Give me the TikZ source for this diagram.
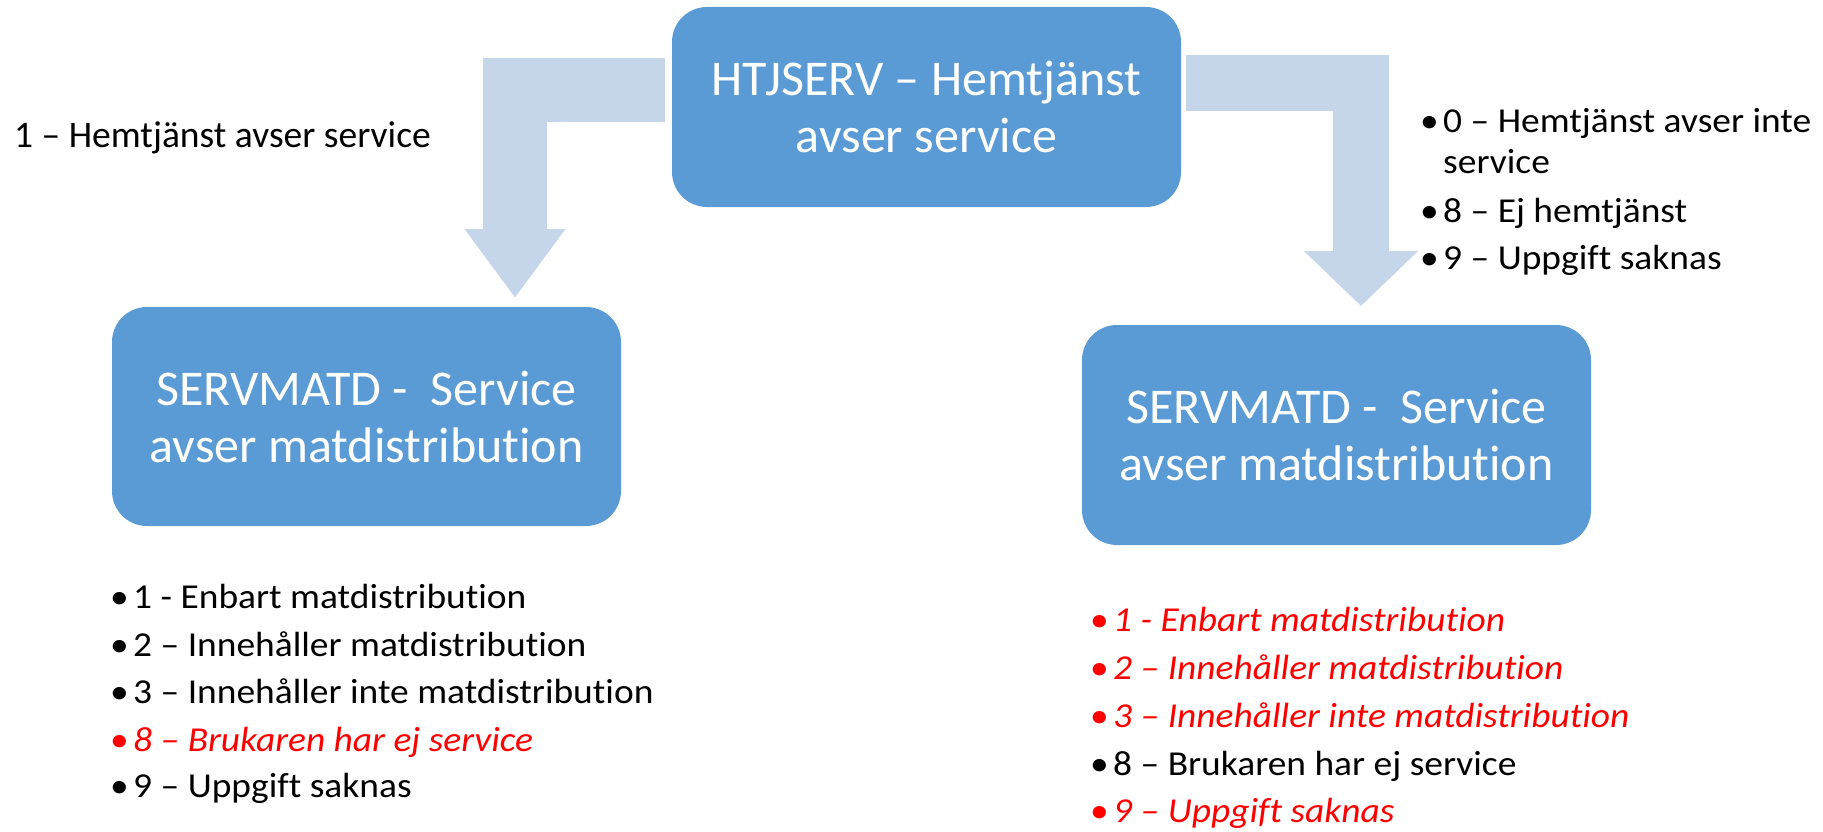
\documentclass[tikz,border=0pt]{standalone}
\usepackage{fontspec}
\setmainfont{Carlito}[Ligatures={NoCommon}]
\newfontfamily\listfont{Carlito}[Ligatures={NoCommon},FakeStretch=1.07]
\usetikzlibrary{arrows.meta}
\definecolor{boxblue}{HTML}{5B9BD5}
\definecolor{arrowblue}{HTML}{C5D5EA}
\definecolor{redtxt}{HTML}{FF0000}
\tikzset{
  box/.style={rectangle, rounded corners=35pt, fill=boxblue, text=white, inner sep=0pt, align=center,
    font=\fontsize{50}{57}\selectfont},
  bigarrow/.style={draw=arrowblue, line cap=butt, line join=miter},
  item/.style={anchor=base west, inner sep=0pt, font=\listfont\fontsize{35}{40}\selectfont},
  reditem/.style={item, text=redtxt, font=\listfont\fontsize{35}{40}\selectfont\itshape},
  bul/.style={anchor=base west, inner sep=0pt, font=\listfont\fontsize{35}{40}\selectfont},
  redbul/.style={bul, text=redtxt},
  label/.style={anchor=base west, inner sep=0pt, font=\fontsize{37.5}{44}\selectfont},
}
\begin{document}
\begin{tikzpicture}[x=1pt,y=-1pt]
\useasboundingbox (0,0) rectangle (1823,832);
% arrows (behind boxes)
\coordinate (L0) at (665,90);
\coordinate (L1) at (515,298);
\coordinate (R0) at (1186,83);
\coordinate (R1) at (1361,306);
\draw[bigarrow, line width=64pt, -{Triangle[width=96pt,length=69pt]}] (L0) -| (L1);
\draw[bigarrow, line width=56pt, -{Triangle[width=111pt,length=55pt]}] (R0) -| (R1);
% boxes
\node[box, minimum width=509pt, minimum height=200pt] (top) at (926.5,107) {HTJSERV – Hemtjänst\\avser service};
\node[box, minimum width=509pt, minimum height=219pt] (left) at (366.5,416.5) {SERVMATD -\ \ Service\\avser matdistribution};
\node[box, minimum width=509pt, minimum height=220pt] (right) at (1336.5,435) {SERVMATD -\ \ Service\\avser matdistribution};
% label left arrow
\node[label] (lab) at (14,147) {1 – Hemtjänst avser service};
% right top list
\node[bul] (rb1) at (1420,132) {•};
\node[item] (rt1) at (1443,132) {0 – Hemtjänst avser inte};
\node[item] (rt1b) at (1443,173) {service};
\node[bul] (rb2) at (1420,222) {•};
\node[item] (rt2) at (1443,222) {8 – Ej hemtjänst};
\node[bul] (rb3) at (1420,269) {•};
\node[item] (rt3) at (1443,269) {9 – Uppgift saknas};
% left bottom list
\node[bul] (lb1) at (110,608) {•};
\node[item] (l1) at (133,608) {1 - Enbart matdistribution};
\node[bul] (lb2) at (110,656) {•};
\node[item] (l2) at (133,656) {2 – Innehåller matdistribution};
\node[bul] (lb3) at (110,703) {•};
\node[item] (l3) at (133,703) {3 – Innehåller inte matdistribution};
\node[redbul] (lb4) at (110,751) {•};
\node[reditem] (l4) at (133,751) {8 – Brukaren har ej service};
\node[bul] (lb5) at (110,797) {•};
\node[item] (l5) at (133,797) {9 – Uppgift saknas};
% right bottom list
\node[redbul] (qb1) at (1090,631) {•};
\node[reditem] (q1) at (1113,631) {1 - Enbart matdistribution};
\node[redbul] (qb2) at (1090,679) {•};
\node[reditem] (q2) at (1113,679) {2 – Innehåller matdistribution};
\node[redbul] (qb3) at (1090,727) {•};
\node[reditem] (q3) at (1113,727) {3 – Innehåller inte matdistribution};
\node[bul] (qb4) at (1090,775) {•};
\node[item] (q4) at (1113,775) {8 – Brukaren har ej service};
\node[redbul] (qb5) at (1090,822) {•};
\node[reditem] (q5) at (1113,822) {9 – Uppgift saknas};
\end{tikzpicture}
\end{document}
